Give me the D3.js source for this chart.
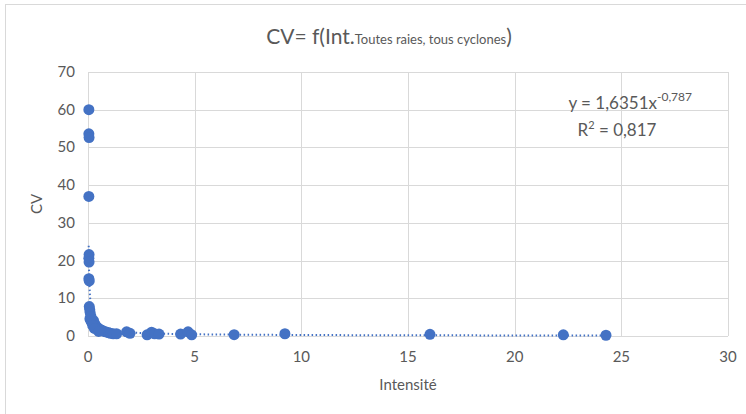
<!DOCTYPE html>
<html>
<head>
<meta charset="utf-8">
<script src="https://cdn.jsdelivr.net/npm/d3@7"></script>
<style>
  body { margin: 0; background: #fff; }
  text { font-family: Lato, "Open Sans", sans-serif; fill: #595959; }
</style>
</head>
<body>
<script>
// Intensité (x) et CV (y)
const intensite = [0.04, 0.04, 0.05, 0.04, 0.05, 0.04, 0.05, 0.04, 0.06, 0.06,
  0.08, 0.10, 0.09, 0.12, 0.16, 0.20, 0.26, 0.32, 0.38, 0.45, 0.55, 0.62, 0.72,
  0.82, 0.95, 1.05, 1.18, 1.34, 1.81, 1.97, 2.77, 2.98, 3.12, 3.33, 4.34, 4.69,
  4.86, 6.85, 9.23, 16.03, 22.28, 24.28, 0.14, 0.22, 0.30, 0.5];
const cv = [60, 53.6, 52.6, 37, 21.6, 20.6, 19.6, 15.2, 14.6, 7.8,
  7.0, 6.2, 4.6, 4.2, 3.8, 3.4, 4.1, 3.2, 2.6, 2.2, 1.8, 1.6, 1.3,
  1.1, 0.9, 0.7, 0.6, 0.6, 1.1, 0.7, 0.3, 1.0, 0.6, 0.5, 0.5, 1.1,
  0.3, 0.35, 0.6, 0.45, 0.3, 0.2, 5.2, 2.8, 2.0, 1.2];
const xTicks = [0, 5, 10, 15, 20, 25, 30];
const yTicks = [0, 10, 20, 30, 40, 50, 60, 70];
// courbe de tendance (puissance)
const trendA = 1.6351, trendB = -0.787;

const width = 746, height = 414;
const svg = d3.select('body').append('svg')
    .attr('width', width)
    .attr('height', height);

// cadre
svg.append('rect')
    .attr('x', 5.5).attr('y', 4.5)
    .attr('width', width + 10).attr('height', height + 10)
    .attr('fill', 'none')
    .attr('stroke', '#d9d9d9');

const x = d3.scaleLinear().domain([0, 30]).range([88, 728]);
const y = d3.scaleLinear().domain([0, 70]).range([336, 72]);

// grille
svg.append('g')
    .selectAll('line.v')
    .data(xTicks)
    .join('line')
    .attr('x1', d => Math.round(x(d)) + 0.5).attr('x2', d => Math.round(x(d)) + 0.5)
    .attr('y1', y(70)).attr('y2', y(0))
    .attr('stroke', '#d9d9d9');
svg.append('g')
    .selectAll('line.h')
    .data(yTicks)
    .join('line')
    .attr('x1', x(0)).attr('x2', x(30))
    .attr('y1', d => Math.round(y(d)) + 0.5).attr('y2', d => Math.round(y(d)) + 0.5)
    .attr('stroke', '#d9d9d9');

// étiquettes des axes
svg.append('g')
    .selectAll('text')
    .data(xTicks)
    .join('text')
    .attr('x', d => x(d)).attr('y', 362)
    .attr('text-anchor', 'middle')
    .style('font-size', '15px')
    .text(d => d);
svg.append('g')
    .selectAll('text')
    .data(yTicks)
    .join('text')
    .attr('x', 75).attr('y', d => y(d) + 5)
    .attr('text-anchor', 'end')
    .style('font-size', '15px')
    .text(d => d);

svg.append('text')
    .attr('x', 408).attr('y', 390)
    .attr('text-anchor', 'middle')
    .style('font-size', '15px')
    .text('Intensité');
svg.append('text')
    .attr('transform', 'translate(42,' + y(35) + ') rotate(-90)')
    .attr('text-anchor', 'middle')
    .style('font-size', '15px')
    .text('CV');

// titre
const title = svg.append('text')
    .attr('x', 389).attr('y', 44)
    .attr('text-anchor', 'middle');
title.append('tspan').style('font-size', '21px').text('CV= f(Int.');
title.append('tspan').style('font-size', '13px').text('Toutes raies, tous cyclones');
title.append('tspan').style('font-size', '21px').text(')');

// courbe de tendance
const xs = d3.range(0, 401).map(i => 0.033 * Math.pow(24.28 / 0.033, i / 400));
svg.append('path')
    .datum(xs)
    .attr('fill', 'none')
    .attr('stroke', '#4472c4')
    .attr('stroke-width', 2)
    .attr('stroke-dasharray', '1.5,2.5')
    .attr('d', d3.line()
        .x(d => x(d))
        .y(d => y(trendA * Math.pow(d, trendB))));

// points
svg.append('g')
    .selectAll('circle')
    .data(intensite)
    .join('circle')
    .attr('cx', d => x(d))
    .attr('cy', (d, i) => y(cv[i]))
    .attr('r', 5.5)
    .attr('fill', '#4472c4');

// équation
const eq = svg.append('text')
    .attr('x', 692).attr('y', 109)
    .attr('text-anchor', 'end')
    .style('font-size', '17px');
eq.append('tspan').text('y = 1,6351x');
eq.append('tspan').attr('dy', -8).style('font-size', '12px').text('-0,787');
const r2 = svg.append('text')
    .attr('x', 617).attr('y', 136)
    .attr('text-anchor', 'middle')
    .style('font-size', '17px');
r2.append('tspan').text('R');
r2.append('tspan').attr('dy', -7).style('font-size', '11px').text('2');
r2.append('tspan').attr('dy', 7).text(' = 0,817');
</script>
</body>
</html>
